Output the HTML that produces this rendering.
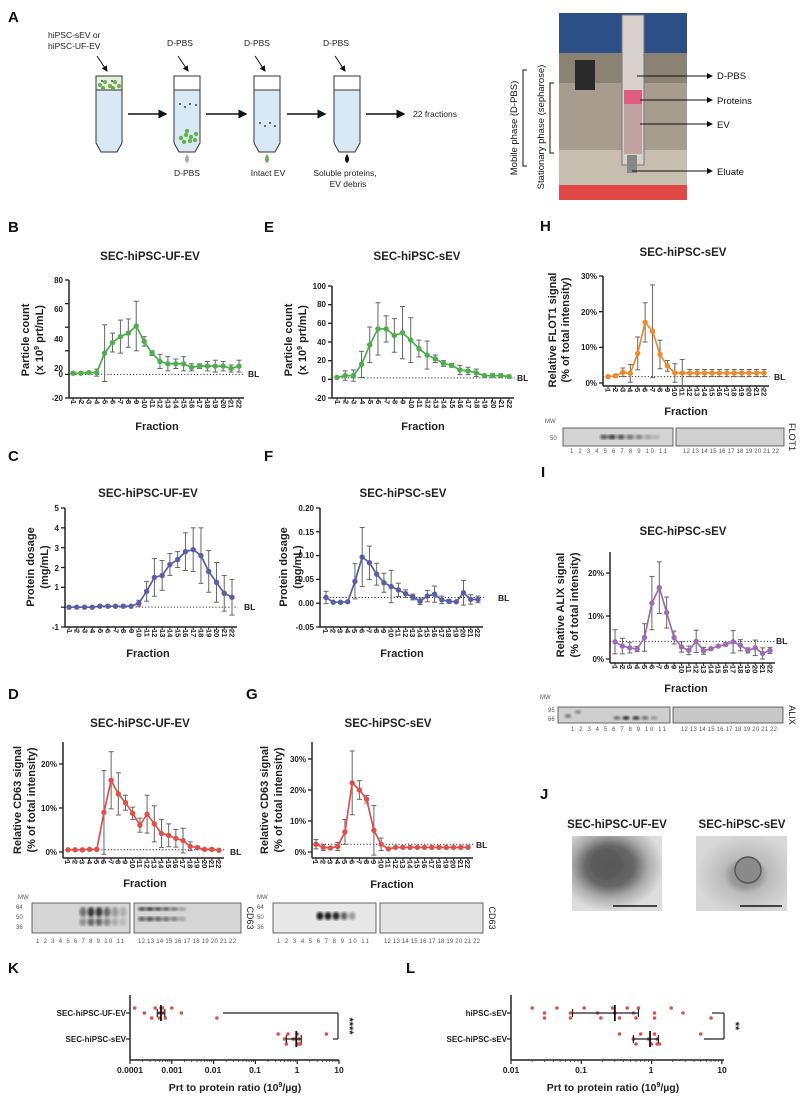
<!DOCTYPE html>
<html><head><meta charset="utf-8">
<style>
body{margin:0;background:#fff;}
#w{position:relative;width:806px;height:1098px;overflow:hidden;font-family:"Liberation Sans",Arial,sans-serif;}
svg{position:absolute;left:0;top:0;}
.fr{position:absolute;display:flex;font:bold 7.5px "Liberation Sans",sans-serif;color:#222;}
.fr span{writing-mode:vertical-rl;display:block;text-align:left;}
text{font-family:"Liberation Sans",Arial,sans-serif;}
.t{font-size:11.5px;font-weight:bold;text-anchor:middle;fill:#222}
.yl{font-size:11px;font-weight:bold;text-anchor:middle;fill:#222}
.tk{font-size:8px;font-weight:bold;text-anchor:end;fill:#222}
.bl{font-size:8.5px;font-weight:bold;fill:#222}
.L{font-size:15px;font-weight:bold;fill:#111}
.s{font-size:8.5px;fill:#222}
.sm{font-size:6px;fill:#555}
</style></head><body><div id="w">
<svg id="sv" width="806" height="1098" xmlns="http://www.w3.org/2000/svg">
<defs>
<filter id="bl1"><feGaussianBlur stdDeviation="1.2"/></filter>
<filter id="bl3"><feGaussianBlur stdDeviation="3"/></filter>
<marker id="ah" markerWidth="6" markerHeight="6" refX="5" refY="3" orient="auto"><path d="M0,0L6,3L0,6z" fill="#111"/></marker>
<radialGradient id="j1" cx="0.42" cy="0.4" r="0.6"><stop offset="0" stop-color="#555"/><stop offset="0.45" stop-color="#666"/><stop offset="0.7" stop-color="#aaa"/><stop offset="1" stop-color="#ddd"/></radialGradient>
<radialGradient id="j2" cx="0.55" cy="0.52" r="0.55"><stop offset="0" stop-color="#888"/><stop offset="0.3" stop-color="#999"/><stop offset="0.45" stop-color="#bbb"/><stop offset="1" stop-color="#d8d8d8"/></radialGradient>
</defs>
<g id="geo"></g>

<!-- panel letters -->
<text class="L" x="8" y="22">A</text>
<text class="L" x="8" y="232">B</text>
<text class="L" x="264" y="232">E</text>
<text class="L" x="540" y="231">H</text>
<text class="L" x="8" y="461">C</text>
<text class="L" x="264" y="461">F</text>
<text class="L" x="541" y="477">I</text>
<text class="L" x="8" y="699">D</text>
<text class="L" x="246" y="699">G</text>
<text class="L" x="540" y="799">J</text>
<text class="L" x="8" y="973">K</text>
<text class="L" x="406" y="973">L</text>

<!-- A schematic text -->
<text class="s" x="48" y="38">hiPSC-sEV or</text>
<text class="s" x="48" y="49">hiPSC-UF-EV</text>
<text class="s" x="180" y="46" text-anchor="middle">D-PBS</text>
<text class="s" x="257" y="46" text-anchor="middle">D-PBS</text>
<text class="s" x="336" y="46" text-anchor="middle">D-PBS</text>
<text class="s" x="187" y="176" text-anchor="middle">D-PBS</text>
<text class="s" x="268" y="176" text-anchor="middle">Intact EV</text>
<text class="s" x="345" y="176" text-anchor="middle">Soluble proteins,</text>
<text class="s" x="348" y="187" text-anchor="middle">EV debris</text>
<text class="s" x="413" y="117">22 fractions</text>
<text x="717" y="79" font-size="9.5" fill="#111">D-PBS</text>
<text x="717" y="104" font-size="9.5" fill="#111">Proteins</text>
<text x="717" y="128" font-size="9.5" fill="#111">EV</text>
<text x="717" y="175" font-size="9.5" fill="#111">Eluate</text>
<text transform="translate(517,128) rotate(-90)" font-size="9.5" text-anchor="middle" fill="#111">Mobile phase (D-PBS)</text>
<text transform="translate(544,127) rotate(-90)" font-size="9.5" text-anchor="middle" fill="#111">Stationary phase (sepharose)</text>

<!-- titles -->
<text class="t" x="150" y="260">SEC-hiPSC-UF-EV</text>
<text class="t" x="417" y="260">SEC-hiPSC-sEV</text>
<text class="t" x="148" y="497">SEC-hiPSC-UF-EV</text>
<text class="t" x="403" y="497">SEC-hiPSC-sEV</text>
<text class="t" x="140" y="727">SEC-hiPSC-UF-EV</text>
<text class="t" x="388" y="727">SEC-hiPSC-sEV</text>
<text class="t" x="683" y="256">SEC-hiPSC-sEV</text>
<text class="t" x="683" y="535">SEC-hiPSC-sEV</text>
<text class="t" x="617" y="828">SEC-hiPSC-UF-EV</text>
<text class="t" x="742" y="828">SEC-hiPSC-sEV</text>

<!-- y labels -->
<text class="yl" transform="translate(29,340) rotate(-90)">Particle count</text>
<text class="yl" transform="translate(43,340) rotate(-90)">(x 10<tspan font-size="7" dy="-4">9</tspan><tspan dy="4"> prt/mL)</tspan></text>
<text class="yl" transform="translate(292,340) rotate(-90)">Particle count</text>
<text class="yl" transform="translate(306,340) rotate(-90)">(x 10<tspan font-size="7" dy="-4">9</tspan><tspan dy="4"> prt/mL)</tspan></text>
<text class="yl" transform="translate(34,567) rotate(-90)">Protein dosage</text>
<text class="yl" transform="translate(48,567) rotate(-90)">(mg/mL)</text>
<text class="yl" transform="translate(287,567) rotate(-90)">Protein dosage</text>
<text class="yl" transform="translate(301,567) rotate(-90)">(mg/mL)</text>
<text class="yl" transform="translate(21,800) rotate(-90)">Relative CD63 signal</text>
<text class="yl" transform="translate(35,800) rotate(-90)">(% of total intensity)</text>
<text class="yl" transform="translate(268,800) rotate(-90)">Relative CD63 signal</text>
<text class="yl" transform="translate(282,800) rotate(-90)">(% of total intensity)</text>
<text class="yl" transform="translate(556,330) rotate(-90)">Relative FLOT1 signal</text>
<text class="yl" transform="translate(569,330) rotate(-90)">(% of total intensity)</text>
<text class="yl" transform="translate(564,605) rotate(-90)">Relative ALIX signal</text>
<text class="yl" transform="translate(578,605) rotate(-90)">(% of total intensity)</text>

<!-- fraction labels -->
<text class="yl" x="157" y="430">Fraction</text>
<text class="yl" x="423" y="430">Fraction</text>
<text class="yl" x="148" y="657">Fraction</text>
<text class="yl" x="402" y="657">Fraction</text>
<text class="yl" x="145" y="887">Fraction</text>
<text class="yl" x="392" y="888">Fraction</text>
<text class="yl" x="686" y="415">Fraction</text>
<text class="yl" x="686" y="692">Fraction</text>

<!-- BL -->
<text class="bl" x="248" y="377">BL</text>
<text class="bl" x="517" y="381">BL</text>
<text class="bl" x="244" y="610">BL</text>
<text class="bl" x="498" y="601">BL</text>
<text class="bl" x="230" y="855">BL</text>
<text class="bl" x="476" y="848">BL</text>
<text class="bl" x="774" y="380">BL</text>
<text class="bl" x="776" y="644">BL</text>

<!-- y tick labels -->
<g class="tk">
<text x="63" y="283">80</text><text x="63" y="312">60</text><text x="63" y="342">40</text><text x="63" y="371">20</text><text x="63" y="377">0</text><text x="63" y="401">-20</text>
<text x="326" y="289">100</text><text x="326" y="307">80</text><text x="326" y="326">60</text><text x="326" y="345">40</text><text x="326" y="363">20</text><text x="326" y="382">0</text><text x="326" y="401">-20</text>
<text x="59" y="511">5</text><text x="59" y="531">4</text><text x="59" y="551">3</text><text x="59" y="571">2</text><text x="59" y="590">1</text><text x="59" y="630">-1</text>
<text x="314" y="511">0.20</text><text x="314" y="535">0.15</text><text x="314" y="558">0.10</text><text x="314" y="582">0.05</text><text x="314" y="606">0.00</text><text x="314" y="630">-0.05</text>
<text x="57" y="767">20%</text><text x="57" y="811">10%</text><text x="57" y="855">0%</text>
<text x="306" y="762">30%</text><text x="306" y="793">20%</text><text x="306" y="824">10%</text><text x="306" y="855">0%</text>
<text x="597" y="279">30%</text><text x="597" y="315">20%</text><text x="597" y="350">10%</text><text x="597" y="386">0%</text>
<text x="604" y="576">20%</text><text x="604" y="619">10%</text><text x="604" y="662">0%</text>
</g>

<!-- blots text -->
<text class="sm" x="18" y="899" font-size="7">MW</text>
<text class="sm" x="16" y="909">64</text><text class="sm" x="16" y="919">50</text><text class="sm" x="16" y="929">36</text>
<text class="sm" x="257" y="899" font-size="7">MW</text>
<text class="sm" x="257" y="909">64</text><text class="sm" x="257" y="919">50</text><text class="sm" x="257" y="929">36</text>
<text class="sm" x="545" y="423" font-size="7">MW</text>
<text class="sm" x="550" y="440">50</text>
<text class="sm" x="540" y="699" font-size="7">MW</text>
<text class="sm" x="548" y="712">95</text><text class="sm" x="548" y="721">66</text>
<text transform="translate(247,918) rotate(90)" font-size="9" text-anchor="middle" fill="#222">CD63</text>
<text transform="translate(489,918) rotate(90)" font-size="9" text-anchor="middle" fill="#222">CD63</text>
<text transform="translate(789,437) rotate(90)" font-size="9" text-anchor="middle" fill="#222">FLOT1</text>
<text transform="translate(789,715) rotate(90)" font-size="9" text-anchor="middle" fill="#222">ALIX</text>
<g class="sm" font-size="5.5">
<text x="36" y="943" textLength="88" lengthAdjust="spacing">1 2 3 4 5 6 7 8 9 10 11</text>
<text x="138" y="943" textLength="98" lengthAdjust="spacing">12 13 14 15 16 17 18 19 20 21 22</text>
<text x="277" y="943" textLength="92" lengthAdjust="spacing">1 2 3 4 5 6 7 8 9 10 11</text>
<text x="384" y="943" textLength="96" lengthAdjust="spacing">12 13 14 15 16 17 18 19 20 21 22</text>
<text x="570" y="453" textLength="97" lengthAdjust="spacing">1 2 3 4 5 6 7 8 9 10 11</text>
<text x="683" y="453" textLength="96" lengthAdjust="spacing">12 13 14 15 16 17 18 19 20 21 22</text>
<text x="571" y="731" textLength="95" lengthAdjust="spacing">1 2 3 4 5 6 7 8 9 10 11</text>
<text x="681" y="731" textLength="96" lengthAdjust="spacing">12 13 14 15 16 17 18 19 20 21 22</text>
</g>

<!-- K / L text -->
<g class="tk" font-size="8.5">
<text x="126" y="1016">SEC-hiPSC-UF-EV</text>
<text x="126" y="1042">SEC-hiPSC-sEV</text>
<text x="507" y="1016">hiPSC-sEV</text>
<text x="507" y="1042">SEC-hiPSC-sEV</text>
</g>
<g font-size="8.5" font-weight="bold" text-anchor="middle" fill="#222">
<text x="130" y="1073">0.0001</text><text x="172" y="1073">0.001</text><text x="213" y="1073">0.01</text><text x="255" y="1073">0.1</text><text x="297" y="1073">1</text><text x="339" y="1073">10</text>
<text x="511" y="1073">0.01</text><text x="581" y="1073">0.1</text><text x="651" y="1073">1</text><text x="722" y="1073">10</text>
</g>
<text x="235" y="1091" font-size="10.5" font-weight="bold" text-anchor="middle" fill="#222">Prt to protein ratio (10<tspan font-size="7" dy="-4">9</tspan><tspan dy="4">/µg)</tspan></text>
<text x="613" y="1091" font-size="10.5" font-weight="bold" text-anchor="middle" fill="#222">Prt to protein ratio (10<tspan font-size="7" dy="-4">9</tspan><tspan dy="4">/µg)</tspan></text>
<text transform="translate(346,1026) rotate(90)" font-size="11" font-weight="bold" text-anchor="middle" fill="#222">****</text>
<text transform="translate(732,1026) rotate(90)" font-size="11" font-weight="bold" text-anchor="middle" fill="#222">**</text>
</svg>

<div class="fr" style="left:69px;top:400px;"><span style="width:7.9px;line-height:7.9px">1</span><span style="width:7.9px;line-height:7.9px">2</span><span style="width:7.9px;line-height:7.9px">3</span><span style="width:7.9px;line-height:7.9px">4</span><span style="width:7.9px;line-height:7.9px">5</span><span style="width:7.9px;line-height:7.9px">6</span><span style="width:7.9px;line-height:7.9px">7</span><span style="width:7.9px;line-height:7.9px">8</span><span style="width:7.9px;line-height:7.9px">9</span><span style="width:7.9px;line-height:7.9px">10</span><span style="width:7.9px;line-height:7.9px">11</span><span style="width:7.9px;line-height:7.9px">12</span><span style="width:7.9px;line-height:7.9px">13</span><span style="width:7.9px;line-height:7.9px">14</span><span style="width:7.9px;line-height:7.9px">15</span><span style="width:7.9px;line-height:7.9px">16</span><span style="width:7.9px;line-height:7.9px">17</span><span style="width:7.9px;line-height:7.9px">18</span><span style="width:7.9px;line-height:7.9px">19</span><span style="width:7.9px;line-height:7.9px">20</span><span style="width:7.9px;line-height:7.9px">21</span><span style="width:7.9px;line-height:7.9px">22</span></div>
<div class="fr" style="left:333px;top:400px;"><span style="width:8.19px;line-height:8.19px">1</span><span style="width:8.19px;line-height:8.19px">2</span><span style="width:8.19px;line-height:8.19px">3</span><span style="width:8.19px;line-height:8.19px">4</span><span style="width:8.19px;line-height:8.19px">5</span><span style="width:8.19px;line-height:8.19px">6</span><span style="width:8.19px;line-height:8.19px">7</span><span style="width:8.19px;line-height:8.19px">8</span><span style="width:8.19px;line-height:8.19px">9</span><span style="width:8.19px;line-height:8.19px">10</span><span style="width:8.19px;line-height:8.19px">11</span><span style="width:8.19px;line-height:8.19px">12</span><span style="width:8.19px;line-height:8.19px">13</span><span style="width:8.19px;line-height:8.19px">14</span><span style="width:8.19px;line-height:8.19px">15</span><span style="width:8.19px;line-height:8.19px">16</span><span style="width:8.19px;line-height:8.19px">17</span><span style="width:8.19px;line-height:8.19px">18</span><span style="width:8.19px;line-height:8.19px">19</span><span style="width:8.19px;line-height:8.19px">20</span><span style="width:8.19px;line-height:8.19px">21</span><span style="width:8.19px;line-height:8.19px">22</span></div>
<div class="fr" style="left:65px;top:629px;"><span style="width:7.76px;line-height:7.76px">1</span><span style="width:7.76px;line-height:7.76px">2</span><span style="width:7.76px;line-height:7.76px">3</span><span style="width:7.76px;line-height:7.76px">4</span><span style="width:7.76px;line-height:7.76px">5</span><span style="width:7.76px;line-height:7.76px">6</span><span style="width:7.76px;line-height:7.76px">7</span><span style="width:7.76px;line-height:7.76px">8</span><span style="width:7.76px;line-height:7.76px">9</span><span style="width:7.76px;line-height:7.76px">10</span><span style="width:7.76px;line-height:7.76px">11</span><span style="width:7.76px;line-height:7.76px">12</span><span style="width:7.76px;line-height:7.76px">13</span><span style="width:7.76px;line-height:7.76px">14</span><span style="width:7.76px;line-height:7.76px">15</span><span style="width:7.76px;line-height:7.76px">16</span><span style="width:7.76px;line-height:7.76px">17</span><span style="width:7.76px;line-height:7.76px">18</span><span style="width:7.76px;line-height:7.76px">19</span><span style="width:7.76px;line-height:7.76px">20</span><span style="width:7.76px;line-height:7.76px">21</span><span style="width:7.76px;line-height:7.76px">22</span></div>
<div class="fr" style="left:322px;top:629px;"><span style="width:7.24px;line-height:7.24px">1</span><span style="width:7.24px;line-height:7.24px">2</span><span style="width:7.24px;line-height:7.24px">3</span><span style="width:7.24px;line-height:7.24px">4</span><span style="width:7.24px;line-height:7.24px">5</span><span style="width:7.24px;line-height:7.24px">6</span><span style="width:7.24px;line-height:7.24px">7</span><span style="width:7.24px;line-height:7.24px">8</span><span style="width:7.24px;line-height:7.24px">9</span><span style="width:7.24px;line-height:7.24px">10</span><span style="width:7.24px;line-height:7.24px">11</span><span style="width:7.24px;line-height:7.24px">12</span><span style="width:7.24px;line-height:7.24px">13</span><span style="width:7.24px;line-height:7.24px">14</span><span style="width:7.24px;line-height:7.24px">15</span><span style="width:7.24px;line-height:7.24px">16</span><span style="width:7.24px;line-height:7.24px">17</span><span style="width:7.24px;line-height:7.24px">18</span><span style="width:7.24px;line-height:7.24px">19</span><span style="width:7.24px;line-height:7.24px">20</span><span style="width:7.24px;line-height:7.24px">21</span><span style="width:7.24px;line-height:7.24px">22</span></div>
<div class="fr" style="left:64px;top:860px;"><span style="width:7.19px;line-height:7.19px">1</span><span style="width:7.19px;line-height:7.19px">2</span><span style="width:7.19px;line-height:7.19px">3</span><span style="width:7.19px;line-height:7.19px">4</span><span style="width:7.19px;line-height:7.19px">5</span><span style="width:7.19px;line-height:7.19px">6</span><span style="width:7.19px;line-height:7.19px">7</span><span style="width:7.19px;line-height:7.19px">8</span><span style="width:7.19px;line-height:7.19px">9</span><span style="width:7.19px;line-height:7.19px">10</span><span style="width:7.19px;line-height:7.19px">11</span><span style="width:7.19px;line-height:7.19px">12</span><span style="width:7.19px;line-height:7.19px">13</span><span style="width:7.19px;line-height:7.19px">14</span><span style="width:7.19px;line-height:7.19px">15</span><span style="width:7.19px;line-height:7.19px">16</span><span style="width:7.19px;line-height:7.19px">17</span><span style="width:7.19px;line-height:7.19px">18</span><span style="width:7.19px;line-height:7.19px">19</span><span style="width:7.19px;line-height:7.19px">20</span><span style="width:7.19px;line-height:7.19px">21</span><span style="width:7.19px;line-height:7.19px">22</span></div>
<div class="fr" style="left:312px;top:860px;"><span style="width:7.24px;line-height:7.24px">1</span><span style="width:7.24px;line-height:7.24px">2</span><span style="width:7.24px;line-height:7.24px">3</span><span style="width:7.24px;line-height:7.24px">4</span><span style="width:7.24px;line-height:7.24px">5</span><span style="width:7.24px;line-height:7.24px">6</span><span style="width:7.24px;line-height:7.24px">7</span><span style="width:7.24px;line-height:7.24px">8</span><span style="width:7.24px;line-height:7.24px">9</span><span style="width:7.24px;line-height:7.24px">10</span><span style="width:7.24px;line-height:7.24px">11</span><span style="width:7.24px;line-height:7.24px">12</span><span style="width:7.24px;line-height:7.24px">13</span><span style="width:7.24px;line-height:7.24px">14</span><span style="width:7.24px;line-height:7.24px">15</span><span style="width:7.24px;line-height:7.24px">16</span><span style="width:7.24px;line-height:7.24px">17</span><span style="width:7.24px;line-height:7.24px">18</span><span style="width:7.24px;line-height:7.24px">19</span><span style="width:7.24px;line-height:7.24px">20</span><span style="width:7.24px;line-height:7.24px">21</span><span style="width:7.24px;line-height:7.24px">22</span></div>
<div class="fr" style="left:604px;top:388px;"><span style="width:7.43px;line-height:7.43px">1</span><span style="width:7.43px;line-height:7.43px">2</span><span style="width:7.43px;line-height:7.43px">3</span><span style="width:7.43px;line-height:7.43px">4</span><span style="width:7.43px;line-height:7.43px">5</span><span style="width:7.43px;line-height:7.43px">6</span><span style="width:7.43px;line-height:7.43px">7</span><span style="width:7.43px;line-height:7.43px">8</span><span style="width:7.43px;line-height:7.43px">9</span><span style="width:7.43px;line-height:7.43px">10</span><span style="width:7.43px;line-height:7.43px">11</span><span style="width:7.43px;line-height:7.43px">12</span><span style="width:7.43px;line-height:7.43px">13</span><span style="width:7.43px;line-height:7.43px">14</span><span style="width:7.43px;line-height:7.43px">15</span><span style="width:7.43px;line-height:7.43px">16</span><span style="width:7.43px;line-height:7.43px">17</span><span style="width:7.43px;line-height:7.43px">18</span><span style="width:7.43px;line-height:7.43px">19</span><span style="width:7.43px;line-height:7.43px">20</span><span style="width:7.43px;line-height:7.43px">21</span><span style="width:7.43px;line-height:7.43px">22</span></div>
<div class="fr" style="left:611px;top:665px;"><span style="width:7.38px;line-height:7.38px">1</span><span style="width:7.38px;line-height:7.38px">2</span><span style="width:7.38px;line-height:7.38px">3</span><span style="width:7.38px;line-height:7.38px">4</span><span style="width:7.38px;line-height:7.38px">5</span><span style="width:7.38px;line-height:7.38px">6</span><span style="width:7.38px;line-height:7.38px">7</span><span style="width:7.38px;line-height:7.38px">8</span><span style="width:7.38px;line-height:7.38px">9</span><span style="width:7.38px;line-height:7.38px">10</span><span style="width:7.38px;line-height:7.38px">11</span><span style="width:7.38px;line-height:7.38px">12</span><span style="width:7.38px;line-height:7.38px">13</span><span style="width:7.38px;line-height:7.38px">14</span><span style="width:7.38px;line-height:7.38px">15</span><span style="width:7.38px;line-height:7.38px">16</span><span style="width:7.38px;line-height:7.38px">17</span><span style="width:7.38px;line-height:7.38px">18</span><span style="width:7.38px;line-height:7.38px">19</span><span style="width:7.38px;line-height:7.38px">20</span><span style="width:7.38px;line-height:7.38px">21</span><span style="width:7.38px;line-height:7.38px">22</span></div>
</div>
<script>
var s='';
function L(x1,y1,x2,y2,st,w,ex){s+='<line x1="'+x1+'" y1="'+y1+'" x2="'+x2+'" y2="'+y2+'" stroke="'+(st||'#222')+'" stroke-width="'+(w||1)+'" '+(ex||'')+'/>';}
function chart(c){
 var P=function(v){return c.p1+(v-c.v1)*(c.p2-c.p1)/(c.v2-c.v1);};
 var X=function(i){return c.x1+i*(c.x22-c.x1)/21;};
 L(c.x0,c.top,c.x0,c.bot,'#222',1.5);L(c.x0,c.bot,c.x22+5,c.bot,'#222',1.5);
 c.ticks.forEach(function(v){L(c.x0-4,P(v),c.x0,P(v),'#222',1.3);});
 for(var i=0;i<22;i++)L(X(i),c.bot,X(i),c.bot+3,'#222',1);
 L(c.x0,P(c.bl),c.x22+6,P(c.bl),'#333',1,'stroke-dasharray="1.2,2"');
 var d='';
 for(i=0;i<22;i++){var v=c.v[i],e=c.e[i],x=X(i);
  if(e>0){L(x,P(v-e),x,P(v+e),'#666',1);L(x-2.5,P(v-e),x+2.5,P(v-e),'#666',1);L(x-2.5,P(v+e),x+2.5,P(v+e),'#666',1);}
  d+=(i?'L':'M')+x.toFixed(1)+','+P(v).toFixed(1);}
 s+='<path d="'+d+'" fill="none" stroke="'+c.col+'" stroke-width="1.7"/>';
 for(i=0;i<22;i++)s+='<circle cx="'+X(i)+'" cy="'+P(c.v[i])+'" r="2.7" fill="'+c.col+'"/>';
}
var G='#4cae4c',B='#5a5ea8',R='#e0504a',O='#ef8a2c',PU='#9c6cb4';
chart({x0:69,top:280,bot:398,v1:80,p1:280,v2:-20,p2:398,x1:73,x22:239,bl:0,col:G,ticks:[80,60,40,20,0,-20],
 v:[1,1,1.5,1.5,18,27,32,35,41,28,18,11,9,9,9,6,7,7,7,7,5,7],e:[0,0,0,3,24,8,14,12,21,4,2,6,6,4,6,3,2,4,5,4,3,5]});
chart({x0:332,top:286,bot:398,v1:100,p1:286,v2:-20,p2:398,x1:337,x22:509,bl:1.5,col:G,ticks:[100,80,60,40,20,0,-20],
 v:[2,4,4,16,37,54,54,47,50,42,33,26,22,17,15,10,9,7,4,4,4,3],e:[0,5,6,14,19,28,14,18,28,24,9,15,4,3,2,5,4,4,1,2,2,1]});
chart({x0:65,top:508,bot:627,v1:5,p1:508,v2:-1,p2:627,x1:69,x22:232,bl:0,col:B,ticks:[5,4,3,2,1,0,-1],
 v:[0,0,0,0,0.05,0.05,0.05,0.05,0.05,0.2,0.8,1.5,1.6,2.15,2.4,2.8,2.9,2.6,1.8,1.25,0.7,0.5],e:[0,0,0,0,0,0,0,0,0,0.15,0.5,0.95,0.75,0.55,0.4,0.95,1.1,1.4,1.05,1.0,0.9,0.9]});
chart({x0:320,top:508,bot:627,v1:0.2,p1:508,v2:-0.05,p2:627,x1:326,x22:478,bl:0.012,col:B,ticks:[0.2,0.15,0.1,0.05,0,-0.05],
 v:[0.012,0.002,0.002,0.003,0.046,0.097,0.085,0.061,0.043,0.035,0.028,0.02,0.013,0.004,0.015,0.019,0.007,0.004,0.003,0.022,0.008,0.008],
 e:[0.013,0,0,0,0.037,0.062,0.035,0.023,0.02,0.034,0.014,0.008,0.006,0.007,0.012,0.017,0.008,0.004,0,0.026,0.01,0.007]});
chart({x0:63,top:742,bot:858,v1:20,p1:764,v2:0,p2:852,x1:68,x22:219,bl:0.5,col:R,ticks:[20,10,0],
 v:[0.5,0.5,0.5,0.6,0.6,9,16.3,13.2,11.2,8.8,6.1,8.6,6.4,4.2,3.8,3.1,2.6,1.3,1.0,0.6,0.6,0.4],e:[0,0,0,0.2,0,9.5,6.5,4.8,1.7,1.4,1.6,4.3,4.1,3.2,2.6,2,2.8,1,0.3,0,0.3,0]});
chart({x0:312,top:742,bot:858,v1:30,p1:759,v2:0,p2:852,x1:316,x22:468,bl:2.5,col:R,ticks:[30,20,10,0],
 v:[2.5,1.5,1.3,1.8,6.5,22.3,20,17,7,2.5,1,1.5,1.5,1.5,1.5,1.5,1.5,1.5,1.5,1.5,1.5,1.5],e:[1.5,1,0,1.3,4,10.3,3,1.2,8,2,0.2,0,0,0,0,0,0,0,0,0,0,0]});
chart({x0:603,top:276,bot:386,v1:30,p1:276,v2:0,p2:383,x1:608,x22:764,bl:1.8,col:O,ticks:[30,20,10,0],
 v:[1.8,2,3,2.7,8.3,17,14.5,8,4.8,2.8,2.8,2.8,2.8,2.8,2.8,2.8,2.8,2.8,2.8,2.8,2.8,2.8],e:[0,0.3,1.2,2.5,4.6,5.5,13,4,1.5,2.6,3.8,1,1,1,1,1,1,1,1,1,1,1]});
chart({x0:610,top:552,bot:663,v1:20,p1:573,v2:0,p2:659,x1:615,x22:770,bl:4.1,col:PU,ticks:[20,10,0],
 v:[4,3,2.6,2.3,5,13,16.6,10.8,5,2.8,2,4.1,1.9,2.4,3,3.4,4,3.2,2,2.6,1.3,2],e:[2.8,1.8,1.2,0.6,3.2,6.2,6,3.6,1.5,1.2,1,2.6,0.8,0.3,0.2,0.4,2.6,1.3,0.6,1.8,1.3,0.7]});

// blots
function box(x1,x2,y1,y2,f){s+='<rect x="'+x1+'" y="'+y1+'" width="'+(x2-x1)+'" height="'+(y2-y1)+'" fill="'+(f||'#d6d6d6')+'" stroke="#444" stroke-width="0.8"/>';}
function band(cx,cy,w,h,o){s+='<ellipse cx="'+cx+'" cy="'+cy+'" rx="'+w+'" ry="'+h+'" fill="#111" opacity="'+o+'" filter="url(#bl1)"/>';}
box(32,130,903,933);box(134,241,903,933);
[[83,.5],[91,.8],[99,.8],[107,.55],[115,.3],[123,.2]].forEach(function(b){band(b[0],912,3.5,5,b[1]);band(b[0],922,3.5,4,b[1]*.7);});
[[142,.7],[150,.8],[158,.7],[166,.6],[174,.5],[182,.3]].forEach(function(b){band(b[0],909,4,2,b[1]);band(b[0],919,4,2.5,b[1]*.8);});
box(273,376,903,933,'#e8e8e8');box(380,483,903,933,'#e4e4e4');
[[320,.95],[328,.95],[336,.9],[344,.6],[352,.35]].forEach(function(b){band(b[0],916,3.5,4,b[1]);});
box(563,673,428,446,'#d4d4d4');box(676,784,428,446,'#d0d0d0');
[[604,.6],[612,.75],[621,.65],[630,.5],[639,.4],[648,.25],[656,.15]].forEach(function(b){band(b[0],437,4,2.5,b[1]);});
box(558,670,707,723,'#cfcfcf');box(673,783,707,723,'#c8c8c8');
[[617,.5],[626,.85],[636,.8],[645,.5],[654,.3]].forEach(function(b){band(b[0],718,3.5,2,b[1]);});
band(568,716,3,2,.5);band(578,712,3,2,.4);

// J images
s+='<rect x="572" y="836" width="90" height="75" fill="url(#j1)"/>';
s+='<circle cx="606" cy="864" r="16" fill="#5a5a5a" opacity=".7"/>';
L(613,906,657,906,'#111',1.6);
s+='<rect x="696" y="836" width="91" height="75" fill="url(#j2)"/>';
s+='<circle cx="748" cy="870" r="13" fill="#8a8a8a" stroke="#555" stroke-width="1.5"/>';
L(740,906,782,906,'#111',1.6);

// K / L
function kl(x0,dec,lo,xend,rows){
 L(x0,995,x0,1060,'#222',1.5);L(x0,1060,xend,1060,'#222',1.5);
 var X=function(v){return x0+(Math.log10(v)-lo)*dec;};
 for(var d=lo;X(Math.pow(10,d))<=xend+1;d++){L(X(Math.pow(10,d)),1060,X(Math.pow(10,d)),1064,'#222',1.2);
  for(var m=2;m<10;m++){var xx=X(m*Math.pow(10,d));if(xx<xend)L(xx,1060,xx,1062,'#222',.7);}}
 rows.forEach(function(r){L(x0-4,r.y,x0,r.y,'#222',1.2);
  r.d.forEach(function(v,i){s+='<circle cx="'+X(v)+'" cy="'+(r.y+((i%3)-1)*5)+'" r="1.8" fill="#d9534f"/>';});
  L(X(r.lo),r.y,X(r.hi),r.y,'#222',1.2);L(X(r.lo),r.y-4,X(r.lo),r.y+4,'#222',1.2);L(X(r.hi),r.y-4,X(r.hi),r.y+4,'#222',1.2);
  L(X(r.m),r.y-8,X(r.m),r.y+8,'#111',1.8);});
}
kl(130,41.8,-4,339,[{y:1013,m:0.00055,lo:0.00045,hi:0.00068,d:[0.00013,0.00022,0.00033,0.0004,0.0005,0.0005,0.0006,0.0006,0.0007,0.001,0.0017,0.012,0.00055,0.00062]},
 {y:1039,m:0.95,lo:0.55,hi:1.25,d:[0.35,0.5,0.55,0.6,0.9,1,1,1.1,1.2,5,0.8,1.1]}]);
L(223,1013,338,1013,'#222',1.2);L(338,1013,338,1039,'#222',1.2);L(333,1039,338,1039,'#222',1.2);
kl(511,70.3,-2,724,[{y:1013,m:0.3,lo:0.075,hi:0.65,d:[0.02,0.03,0.03,0.045,0.07,0.07,0.11,0.17,0.19,0.28,0.3,0.35,0.45,0.55,0.6,0.65,1.1,1.1,1.9,2.8,7]},
 {y:1039,m:0.95,lo:0.55,hi:1.25,d:[0.35,0.55,0.6,0.7,0.9,1,1.1,1.2,1.3,5,0.55,1.2]}]);
L(712,1013,724,1013,'#222',1.2);L(724,1013,724,1039,'#222',1.2);L(704,1039,724,1039,'#222',1.2);

// A schematic
function tube(l,r,cap){
 s+='<path d="M'+l+',76V143L'+(l+5)+',152H'+(r-5)+'L'+r+',143V76Z" fill="#d9e8f5" stroke="#333" stroke-width="1"/>';
 s+='<rect x="'+l+'" y="76" width="'+(r-l)+'" height="14" fill="'+(cap||'#fff')+'" stroke="#333" stroke-width="1"/>';
}
tube(96,122,'#e6f0e0');tube(174,200);tube(254,280);tube(334,360);
[[100,85],[105,82],[110,86],[115,82],[119,86],[103,88],[113,88]].forEach(function(p){s+='<circle cx="'+p[0]+'" cy="'+p[1]+'" r="2" fill="#6ab04c"/>';});
[[180,104],[185,107],[190,104],[196,105],[260,123],[265,126],[270,123],[275,126],[102,81],[112,81]].forEach(function(p){s+='<circle cx="'+p[0]+'" cy="'+p[1]+'" r="0.9" fill="#111"/>';});
[[181,138],[186,135],[191,137],[196,134],[184,142],[190,141],[195,140],[187,131]].forEach(function(p){s+='<circle cx="'+p[0]+'" cy="'+p[1]+'" r="2.2" fill="#6ab04c"/>';});
s+='<path d="M187,154 Q183,160 187,163 Q191,160 187,154Z" fill="#aaa"/>';
s+='<path d="M267,154 Q263,160 267,163 Q271,160 267,154Z" fill="#6ab04c"/>';
s+='<path d="M347,154 Q343,160 347,163 Q351,160 347,154Z" fill="#111"/>';
[[97,56,107,71],[178,56,188,71],[255,56,265,71],[335,56,345,71]].forEach(function(a){L(a[0],a[1],a[2],a[3],'#111',1,'marker-end="url(#ah)"');});
[[128,114,166],[206,114,246],[287,114,325],[366,114,404]].forEach(function(a){L(a[0],a[1],a[2],a[1],'#111',1.5,'marker-end="url(#ah)"');});
// photo
s+='<rect x="559" y="13" width="128" height="187" fill="#a89c8e"/>';
s+='<rect x="559" y="13" width="128" height="40" fill="#2c4f88"/>';
s+='<rect x="559" y="53" width="128" height="30" fill="#8b8274"/>';
s+='<rect x="575" y="60" width="20" height="30" fill="#2a2a2a"/>';
s+='<rect x="559" y="150" width="128" height="35" fill="#c8beb0"/>';
s+='<rect x="559" y="185" width="128" height="15" fill="#e04848"/>';
s+='<rect x="622" y="15" width="22" height="150" fill="#d8d0cc" stroke="#777" stroke-width="1"/>';
s+='<rect x="624" y="90" width="18" height="14" fill="#e0406a" opacity=".8"/>';
s+='<rect x="624" y="104" width="18" height="50" fill="#b89090" opacity=".7"/>';
s+='<rect x="627" y="155" width="10" height="18" fill="#888"/>';
L(637,76,712,76,'#111',1,'marker-end="url(#ah)"');L(640,100,712,100,'#111',1,'marker-end="url(#ah)"');
L(640,124,712,124,'#111',1,'marker-end="url(#ah)"');L(632,171,712,171,'#111',1,'marker-end="url(#ah)"');
s+='<path d="M527,70H523V166H527" fill="none" stroke="#111"/><path d="M554,83H550V153H554" fill="none" stroke="#111"/>';
document.getElementById('geo').innerHTML=s;
</script>
</body></html>
